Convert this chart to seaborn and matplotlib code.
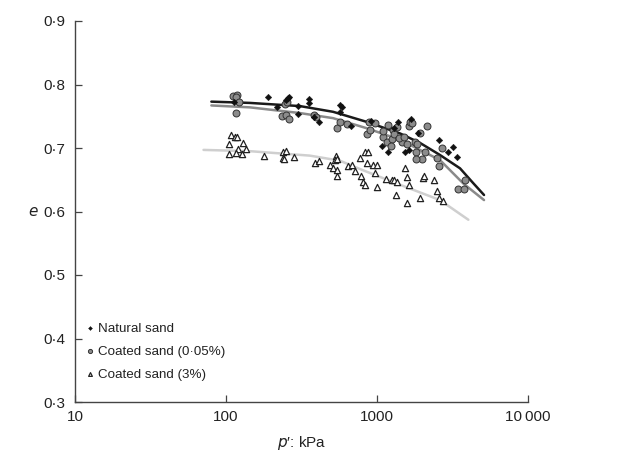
import matplotlib
matplotlib.use("Agg")
import matplotlib.pyplot as plt
import matplotlib.ticker as mticker
import seaborn as sns
import pandas as pd

# Measured points: mean effective stress p' (kPa) and void ratio e
natural_p = [113, 191, 217, 250, 259, 261, 299, 299, 356, 356, 384, 415, 569, 584, 569,
             669, 908, 1074, 1177, 1297, 1371, 1532, 1637, 1671, 1878, 2588, 2966, 3170, 3372]
natural_e = [0.773, 0.780, 0.765, 0.775, 0.778, 0.781, 0.766, 0.753, 0.777, 0.771, 0.749, 0.741, 0.768, 0.765, 0.756,
             0.735, 0.743, 0.703, 0.694, 0.731, 0.741, 0.694, 0.697, 0.745, 0.723, 0.713, 0.694, 0.701, 0.686]

coated005_p = [112, 119, 117, 122, 117, 234, 250, 263, 246, 254, 385, 395, 541, 569, 636,
               854, 889, 899, 975, 1102, 1159, 1188, 1251, 1270, 1350, 1457, 1573, 1637, 1654, 1698,
               1786, 1812, 1832, 1927, 1977, 1812, 2080, 2134, 2485, 2586, 2682, 3453, 3785, 3828,
               1100, 1300, 1400, 1500, 1230]
coated005_e = [0.782, 0.784, 0.780, 0.773, 0.755, 0.750, 0.752, 0.745, 0.769, 0.773, 0.752, 0.749, 0.731, 0.741, 0.738,
               0.722, 0.741, 0.729, 0.739, 0.718, 0.710, 0.736, 0.714, 0.729, 0.733, 0.710, 0.707, 0.735, 0.741, 0.739,
               0.710, 0.694, 0.707, 0.723, 0.683, 0.683, 0.693, 0.734, 0.684, 0.671, 0.700, 0.635, 0.635, 0.650,
               0.726, 0.722, 0.715, 0.718, 0.703]

coated3_p = [108, 115, 119, 105, 129, 120, 136, 104, 116, 127, 179, 240, 248, 240, 242, 282,
             388, 415, 488, 535, 527, 546, 514, 541, 546, 646, 680, 715, 771, 833, 875, 863,
             936, 995, 970, 779, 811, 833, 995, 1148, 1251, 1297, 1350, 1532, 1573, 1637, 1336,
             1587, 1927, 2008, 2048, 2385, 2483, 2588, 2749]
coated3_e = [0.721, 0.718, 0.718, 0.706, 0.708, 0.698, 0.699, 0.690, 0.692, 0.690, 0.687, 0.694, 0.695, 0.684, 0.683, 0.686,
             0.677, 0.680, 0.674, 0.687, 0.681, 0.682, 0.668, 0.665, 0.656, 0.672, 0.673, 0.664, 0.685, 0.693, 0.693, 0.677,
             0.673, 0.673, 0.660, 0.656, 0.647, 0.642, 0.639, 0.651, 0.650, 0.650, 0.647, 0.668, 0.655, 0.642, 0.626,
             0.614, 0.622, 0.652, 0.656, 0.650, 0.632, 0.622, 0.617]

# Critical state lines, read as points along each curve
csl_natural_p = [80, 144, 309, 512, 859, 1419, 1927, 2612, 3546, 4325, 5114]
csl_natural_e = [0.773, 0.771, 0.766, 0.757, 0.741, 0.723, 0.708, 0.689, 0.668, 0.645, 0.626]
csl_coated005_p = [80, 144, 309, 512, 859, 1419, 2612, 3733, 5114]
csl_coated005_e = [0.767, 0.764, 0.755, 0.747, 0.731, 0.713, 0.681, 0.644, 0.618]
csl_coated3_p = [71, 144, 359, 568, 807, 1355, 2612, 4027]
csl_coated3_e = [0.697, 0.695, 0.688, 0.680, 0.665, 0.644, 0.618, 0.587]

labels = ["Natural sand", "Coated sand (0\u00b705%)", "Coated sand (3%)"]
x_ticks = [10, 100, 1000, 10000]
x_ticklabels = ["10", "100", "1000", "10\u2009000"]
y_ticks = [0.3, 0.4, 0.5, 0.6, 0.7, 0.8, 0.9]

sns.set_theme(style="white")
plt.rcParams["font.family"] = ["Liberation Sans", "DejaVu Sans"]
plt.rcParams["font.size"] = 11

fig = plt.figure(figsize=(6.38, 4.59), dpi=100)
ax = fig.add_axes([75 / 638, 57 / 459, 453 / 638, 381 / 459])

pts_nat = pd.DataFrame({"p": natural_p, "e": natural_e})
pts_c05 = pd.DataFrame({"p": coated005_p, "e": coated005_e})
pts_c3 = pd.DataFrame({"p": coated3_p, "e": coated3_e})

line_kw = dict(ax=ax, sort=True, estimator=None, linewidth=1.8, legend=False)
sns.lineplot(data=pd.DataFrame({"p": csl_coated3_p, "e": csl_coated3_e}), x="p", y="e",
             color="#cfcfcf", zorder=2, **line_kw)
sns.lineplot(data=pd.DataFrame({"p": csl_coated005_p, "e": csl_coated005_e}), x="p", y="e",
             color="#8a8a8a", zorder=2, **line_kw)
sns.lineplot(data=pd.DataFrame({"p": csl_natural_p, "e": csl_natural_e}), x="p", y="e",
             color="#1a1a1a", zorder=2, **line_kw)

sns.scatterplot(data=pts_c3, x="p", y="e", ax=ax, marker="^", s=20, color="white",
                edgecolor="#222222", linewidth=0.9, label=labels[2], zorder=3)
sns.scatterplot(data=pts_c05, x="p", y="e", ax=ax, marker="o", s=25, color="#8c8c8c",
                edgecolor="#333333", linewidth=0.7, label=labels[1], zorder=4)
sns.scatterplot(data=pts_nat, x="p", y="e", ax=ax, marker="D", s=11, color="#111111",
                edgecolor="#111111", linewidth=0.3, label=labels[0], zorder=5)

ax.set_xscale("log")
ax.set_xlim(10, 10000)
ax.set_ylim(0.3, 0.9)
ax.xaxis.set_major_locator(mticker.FixedLocator(x_ticks))
ax.xaxis.set_minor_locator(mticker.NullLocator())
ax.set_xticklabels(x_ticklabels)
ax.set_yticks(y_ticks)
ax.set_yticklabels([f"{v:.1f}".replace(".", "\u00b7") for v in y_ticks])

for side in ("top", "right"):
    ax.spines[side].set_visible(False)
for side in ("left", "bottom"):
    ax.spines[side].set_color("#444444")
    ax.spines[side].set_linewidth(1.0)
ax.tick_params(axis="both", direction="in", length=5, width=0.9, color="#444444",
               labelsize=11, labelcolor="#222222", left=True, bottom=True)
ax.tick_params(axis="y", pad=7)
ax.tick_params(axis="x", pad=6)

ax.set_xlabel("$p$\u2032: kPa", fontsize=11, color="#222222", labelpad=7)
ax.set_ylabel("$e$", fontsize=11, color="#222222", rotation=0, labelpad=7, va="center")

handles, lbls = ax.get_legend_handles_labels()
order = [lbls.index(l) for l in labels]
leg = ax.legend([handles[i] for i in order], [lbls[i] for i in order],
                loc="upper left", bbox_to_anchor=(-0.006, 0.233), frameon=False,
                fontsize=9.6, handletextpad=0.05, labelspacing=0.8, markerscale=0.6,
                handlelength=1.2, borderaxespad=0.3)
for t in leg.get_texts():
    t.set_color("#222222")

fig.savefig("out.png", dpi=100)
